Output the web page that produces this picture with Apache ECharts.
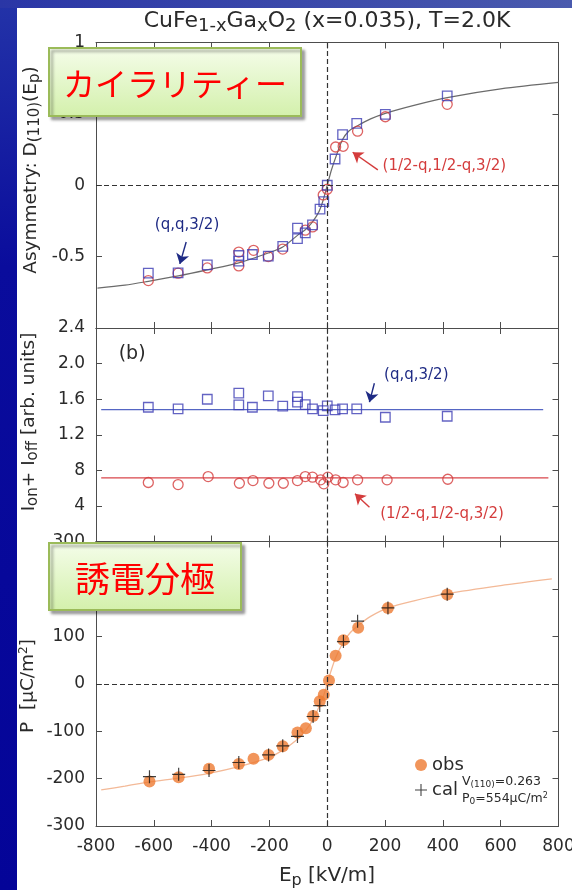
<!DOCTYPE html>
<html>
<head>
<meta charset="utf-8">
<script src="https://cdn.jsdelivr.net/npm/echarts@6/dist/echarts.min.js"></script>
<style>
html, body { margin: 0; padding: 0; background: #fff; }
#chart { width: 572px; height: 890px; }
</style>
</head>
<body>
<div id="chart"></div>
<script>
// ---- shared field axis (E_p, kV/m) ----
const xTicks = [-800, -600, -400, -200, 0, 200, 400, 600, 800];
const xTickLabels = ['-800', '-600', '-400', '-200', '0', '200', '400', '600', '800'];

// ---- (a) asymmetry D(110)(Ep) ----
const asymTicks = [-1, -0.5, 0, 0.5, 1];
const asymTickLabels = ['', '-0.5', '0', '0.5', '1'];
const asymQqE = [-619, -516, -415, -306, -306, -259, -204, -154, -103, -103, -76, -51, -25, -12, 0, 27, 53, 102, 201, 415];
const asymQqD = [-0.616, -0.614, -0.558, -0.492, -0.532, -0.485, -0.496, -0.428, -0.301, -0.374, -0.334, -0.278, -0.167, -0.115, 0, 0.184, 0.355, 0.433, 0.496, 0.626];
const asymHalfE = [-619, -516, -415, -306, -306, -255, -204, -154, -76, -51, -14, 0, 29, 55, 105, 201, 415];
const asymHalfD = [-0.668, -0.616, -0.579, -0.468, -0.565, -0.456, -0.500, -0.447, -0.315, -0.292, -0.068, -0.028, 0.268, 0.273, 0.379, 0.480, 0.567];
const asymFitE = [-795, -700, -619, -515, -415, -306, -204, -154, -103, -75, -51, -30, -15, 0, 15, 30, 53, 75, 102, 150, 201, 300, 415, 600, 800];
const asymFitD = [-0.72, -0.70, -0.673, -0.635, -0.593, -0.544, -0.475, -0.433, -0.351, -0.31, -0.256, -0.19, -0.11, 0, 0.11, 0.2, 0.32, 0.38, 0.414, 0.465, 0.504, 0.56, 0.614, 0.675, 0.72];

// ---- (b) Ion + Ioff ----
const intTicks = [0, 0.4, 0.8, 1.2, 1.6, 2.0, 2.4];
const intTickLabels = ['', '4', '8', '1.2', '1.6', '2.0', '2.4'];
const intQqE = [-619, -516, -415, -306, -306, -259, -204, -154, -103, -103, -76, -51, -14, 0, 27, 53, 102, 201, 415];
const intQqI = [1.509, 1.491, 1.599, 1.667, 1.536, 1.509, 1.637, 1.521, 1.629, 1.566, 1.539, 1.491, 1.472, 1.524, 1.479, 1.491, 1.491, 1.397, 1.408];
const intHalfE = [-619, -516, -412, -304, -257, -202, -152, -103, -76, -51, -23, -12, 2, 29, 55, 105, 207, 417];
const intHalfI = [0.663, 0.640, 0.730, 0.655, 0.685, 0.655, 0.655, 0.685, 0.730, 0.723, 0.693, 0.648, 0.723, 0.693, 0.663, 0.693, 0.693, 0.700];
const intQqLineE = [-782, 747];
const intQqLineI = [1.483, 1.483];
const intHalfLineE = [-782, 765];
const intHalfLineI = [0.715, 0.715];

// ---- (c) polarization P ----
const polTicks = [-300, -200, -100, 0, 100, 200, 300];
const polTickLabels = ['-300', '-200', '-100', '0', '100', '200', '300'];
const polObsE = [-615, -514, -409, -306, -255, -203, -154, -103, -74, -49, -26, -12, 6, 29, 56, 107, 210, 415];
const polObsP = [-206, -197, -179, -169, -158, -150, -132, -103, -94, -68, -37, -23, 7, 59, 92, 118, 160, 188];
const polCalE = [-615, -514, -409, -306, -203, -154, -103, -49, -26, 56, 105, 210, 415];
const polCalP = [-196, -191, -183, -166, -150, -131, -111, -69, -46, 89, 132, 160, 189];
const polFitE = [-782, -700, -615, -514, -409, -306, -203, -154, -103, -74, -49, -26, -12, 0, 12, 29, 56, 80, 107, 150, 210, 300, 415, 600, 777];
const polFitP = [-224, -216, -207, -199, -189, -175, -156, -140, -117, -98, -75, -45, -24, 0, 25, 55, 88, 108, 123, 142, 160, 175, 190, 207, 221];

const FONT = 'DejaVu Sans';
const JP_FONT = 'Noto Sans CJK JP';
const AXIS_COLOR = '#4d4d4d';
const TEXT = '#2a2a2a';
const BLUE = '#3c3cb4';
const RED = '#d43c3c';
const NAVY = '#1e2a84';
const PLUS = 'path://M-0.09,-1 L0.09,-1 L0.09,-0.09 L1,-0.09 L1,0.09 L0.09,0.09 L0.09,1 L-0.09,1 L-0.09,0.09 L-1,0.09 L-1,-0.09 L-0.09,-0.09 Z';

const zip = (a, b) => a.map((v, i) => [v, b[i]]);
const tickFormatter = (ticks, labels) => v => {
  const i = ticks.findIndex(t => Math.abs(t - v) < 1e-6);
  return i < 0 ? '' : labels[i];
};

const panels = [
  { top: 42.5, height: 285.5, min: -1, max: 1, interval: 0.5, ticks: asymTicks, labels: asymTickLabels },
  { top: 328, height: 213.5, min: 0, max: 2.4, interval: 0.4, ticks: intTicks, labels: intTickLabels },
  { top: 541.5, height: 284.5, min: -300, max: 300, interval: 100, ticks: polTicks, labels: polTickLabels }
];

const axisLine = { onZero: false, lineStyle: { color: AXIS_COLOR, width: 1 } };
const axisTick = { inside: true, length: 6, lineStyle: { color: AXIS_COLOR, width: 1 } };
const labelStyle = { fontFamily: FONT, fontSize: 17, color: TEXT };

const grid = [], xAxis = [], yAxis = [];
panels.forEach((p, i) => {
  grid.push({ left: 96, right: 13.5, top: p.top, height: p.height, containLabel: false, outerBoundsMode: 'none' });
  ['bottom', 'top'].forEach(pos => xAxis.push({
    gridIndex: i, type: 'value', position: pos, min: -800, max: 800, interval: 200,
    axisLine, axisTick, splitLine: { show: false },
    axisLabel: (i === 2 && pos === 'bottom')
      ? Object.assign({ show: true, margin: 12, showMinLabel: true, showMaxLabel: true, formatter: tickFormatter(xTicks, xTickLabels) }, labelStyle)
      : { show: false }
  }));
  ['left', 'right'].forEach(pos => yAxis.push({
    gridIndex: i, type: 'value', position: pos, min: p.min, max: p.max, interval: p.interval,
    axisLine, axisTick, splitLine: { show: false },
    axisLabel: pos === 'left'
      ? Object.assign({ show: true, margin: 11, showMinLabel: true, showMaxLabel: true, formatter: tickFormatter(p.ticks, p.labels) }, labelStyle)
      : { show: false }
  }));
});

const dashed = { color: '#333', width: 1.2, type: [5, 3] };
const zeroLines = (withHorizontal) => ({
  silent: true, symbol: 'none', label: { show: false }, lineStyle: dashed, animation: false,
  data: withHorizontal ? [{ xAxis: 0 }, { yAxis: 0 }] : [{ xAxis: 0 }]
});
// short pointer from a label to the data it names
const arrow = (from, to, color) => ({
  silent: true, symbol: ['none', 'arrow'], symbolSize: 10, label: { show: false }, animation: false,
  itemStyle: { color },
  lineStyle: { color, width: 1.4, type: 'solid' },
  data: [[{ coord: from }, { coord: to }]]
});
const hollow = (color) => ({ color: 'rgba(0,0,0,0)', borderColor: color, borderWidth: 1.3 });

const series = [
  // (a)
  { type: 'line', xAxisIndex: 0, yAxisIndex: 0, data: zip(asymFitE, asymFitD), smooth: 0.3, symbol: 'none',
    lineStyle: { color: '#6b6b6b', width: 1.2 }, silent: true, markLine: zeroLines(true), z: 2 },
  { type: 'scatter', name: '(1/2-q,1/2-q,3/2) a', xAxisIndex: 0, yAxisIndex: 0, data: zip(asymHalfE, asymHalfD),
    symbol: 'circle', symbolSize: 10, itemStyle: hollow(RED), markLine: arrow([175, 0.108], [88, 0.231], RED), z: 3 },
  { type: 'scatter', name: '(q,q,3/2) a', xAxisIndex: 0, yAxisIndex: 0, data: zip(asymQqE, asymQqD),
    symbol: 'rect', symbolSize: 9.5, itemStyle: hollow(BLUE), markLine: arrow([-488, -0.398], [-510, -0.551], NAVY), z: 4 },
  // (b)
  { type: 'line', xAxisIndex: 2, yAxisIndex: 2, data: zip(intQqLineE, intQqLineI), symbol: 'none',
    lineStyle: { color: '#5566c4', width: 1.2 }, silent: true, markLine: zeroLines(false), z: 2 },
  { type: 'line', xAxisIndex: 2, yAxisIndex: 2, data: zip(intHalfLineE, intHalfLineI), symbol: 'none',
    lineStyle: { color: '#d9464b', width: 1.2 }, silent: true, z: 2 },
  { type: 'scatter', name: '(q,q,3/2) b', xAxisIndex: 2, yAxisIndex: 2, data: zip(intQqE, intQqI),
    symbol: 'rect', symbolSize: 9.5, itemStyle: hollow(BLUE), markLine: arrow([163, 1.779], [146, 1.566], NAVY), z: 4 },
  { type: 'scatter', name: '(1/2-q,1/2-q,3/2) b', xAxisIndex: 2, yAxisIndex: 2, data: zip(intHalfE, intHalfI),
    symbol: 'circle', symbolSize: 10, itemStyle: hollow(RED), markLine: arrow([146, 0.386], [96, 0.536], RED), z: 4 },
  // (c)
  { type: 'line', xAxisIndex: 4, yAxisIndex: 4, data: zip(polFitE, polFitP), smooth: 0.3, symbol: 'none',
    lineStyle: { color: '#f3b997', width: 1.3 }, silent: true, markLine: zeroLines(true), z: 2 },
  { type: 'scatter', name: 'obs', xAxisIndex: 4, yAxisIndex: 4, data: zip(polObsE, polObsP),
    symbol: 'circle', symbolSize: 12, itemStyle: { color: '#ee7a32' }, z: 3 },
  { type: 'scatter', name: 'cal', xAxisIndex: 4, yAxisIndex: 4, data: zip(polCalE, polCalP),
    symbol: PLUS, symbolSize: 13, itemStyle: { color: '#111' }, z: 4 }
];

const option = {
  animation: false,
  backgroundColor: '#fff',
  grid, xAxis, yAxis, series,
  legend: {
    orient: 'vertical', left: 410, top: 750, itemGap: 5, itemWidth: 12, itemHeight: 12,
    selectedMode: false,
    textStyle: { fontFamily: FONT, fontSize: 18, color: TEXT, lineHeight: 20 },
    data: [{ name: 'obs', icon: 'circle' }, { name: 'cal', icon: PLUS }]
  }
};

const chart = echarts.init(document.getElementById('chart'), null, { renderer: 'canvas' });
chart.setOption(option);

// ---- text annotations placed in data coordinates ----
const notes = [
  { grid: 0, at: [-485, -0.28], text: '(q,q,3/2)', color: NAVY, size: 15 },
  { grid: 0, at: [405, 0.132], text: '(1/2-q,1/2-q,3/2)', color: RED, size: 15 },
  { grid: 1, at: [308, 1.865], text: '(q,q,3/2)', color: NAVY, size: 15 },
  { grid: 1, at: [397, 0.311], text: '(1/2-q,1/2-q,3/2)', color: RED, size: 15 },
  { grid: 1, at: [-675, 2.109], text: '(b)', color: TEXT, size: 19 }
];

const textEl = (x, y, text, rich, extra) => Object.assign({
  type: 'text', x, y, z: 60,
  style: { text, rich, align: 'center', verticalAlign: 'middle', textAlign: 'center', textVerticalAlign: 'middle' }
}, extra || {});
const leftText = (x, y, text, rich) => ({
  type: 'text', x, y, z: 60,
  style: { text, rich, align: 'left', verticalAlign: 'middle', textAlign: 'left', textVerticalAlign: 'middle' }
});

const sub = (size, color) => ({ fontFamily: FONT, fontSize: size, fill: color, color, padding: [Math.round(size * 0.6), 0, 0, 0] });
const sup = (size, color) => ({ fontFamily: FONT, fontSize: size, fill: color, color, padding: [0, 0, Math.round(size * 0.7), 0] });
const main = (size, color) => ({ fontFamily: FONT, fontSize: size, fill: color, color });

const box = (x, y, w, h, text, size, weight) => ({
  type: 'group', z: 80, children: [
    { type: 'rect', z: 80, shape: { x, y, width: w, height: h },
      style: {
        fill: new echarts.graphic.LinearGradient(0, 0, 0, 1, [
          { offset: 0, color: '#f5fdea' }, { offset: 1, color: '#d3f0ab' }
        ]),
        stroke: '#9bbb59', lineWidth: 2,
        shadowBlur: 3, shadowOffsetX: 3, shadowOffsetY: 3, shadowColor: 'rgba(0,0,0,0.35)'
      } },
    { type: 'text', z: 81, x: x + w / 2, y: y + h / 2 + 2,
      style: { text, fill: '#ff0000', fontFamily: JP_FONT, fontSize: size, fontWeight: weight,
        align: 'center', verticalAlign: 'middle', textAlign: 'center', textVerticalAlign: 'middle' } }
  ]
});

const graphic = [
  { type: 'rect', z: 1, shape: { x: 0, y: 0, width: 17, height: 890 },
    style: { fill: new echarts.graphic.LinearGradient(0, 0, 0, 1, [
      { offset: 0, color: '#2333a8' }, { offset: 0.3, color: '#0a0c9c' }, { offset: 1, color: '#040498' }]) } },
  { type: 'rect', z: 1, shape: { x: 0, y: 0, width: 572, height: 8 },
    style: { fill: new echarts.graphic.LinearGradient(0, 0, 1, 0, [
      { offset: 0, color: '#2a36a6' }, { offset: 1, color: '#4a5aae' }]) } },
  // title
  textEl(327, 21, '{m|CuFe}{s|1-x}{m|Ga}{s|x}{m|O}{s|2}{m| (x=0.035), T=2.0K}',
    { m: main(22, TEXT), s: sub(18, TEXT) }),
  // y-axis names
  textEl(31, 170, '{m|Asymmetry: D}{s|(110)}{m|(E}{s|p}{m|)}',
    { m: main(18.5, TEXT), s: sub(15, TEXT) }, { rotation: Math.PI / 2 }),
  textEl(29, 422, '{m|I}{s|on}{m|+ I}{s|off}{m| [arb. units]}',
    { m: main(18.5, TEXT), s: sub(15, TEXT) }, { rotation: Math.PI / 2 }),
  textEl(28, 686, '{m|P  [μC/m}{p|2}{m|]}',
    { m: main(18.5, TEXT), p: sup(12, TEXT) }, { rotation: Math.PI / 2 }),
  // x-axis name
  textEl(327, 876, '{m|E}{s|p}{m| [kV/m]}', { m: main(20, TEXT), s: sub(16, TEXT) }),
  // model parameters beside the legend
  leftText(462, 782, '{m|V}{s|(110)}{m|=0.263}', { m: main(12.5, TEXT), s: sub(9, TEXT) }),
  leftText(462, 799, '{m|P}{s|0}{m|=554μC/m}{p|2}', { m: main(12.5, TEXT), s: sub(9, TEXT), p: sup(8, TEXT) }),
  // labelled boxes
  box(49, 48, 252, 68, 'カイラリティー', 32, 'normal'),
  box(49, 543, 192, 67, '誘電分極', 35, 'normal')
];

notes.forEach(n => {
  const p = chart.convertToPixel({ gridIndex: n.grid }, n.at);
  graphic.push({
    type: 'text', x: p[0], y: p[1], z: 60,
    style: { text: n.text, fill: n.color, fontFamily: FONT, fontSize: n.size,
      align: 'center', verticalAlign: 'middle', textAlign: 'center', textVerticalAlign: 'middle' }
  });
});

chart.setOption({ graphic });
</script>
</body>
</html>
